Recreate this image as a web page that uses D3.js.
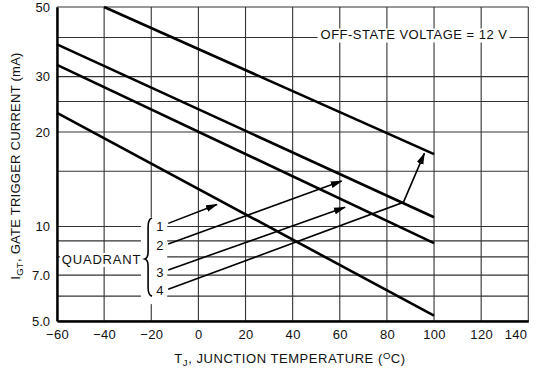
<!DOCTYPE html>
<html>
<head>
<meta charset="utf-8">
<script src="https://cdn.jsdelivr.net/npm/d3@7"></script>
<style>
  html, body { margin: 0; padding: 0; background: #fff; }
  svg { display: block; }
  text { font-family: "Liberation Sans", Arial, sans-serif; fill: #111; }
</style>
</head>
<body>
<svg id="chart" width="538" height="371"></svg>
<script>
// ---- data ----
const xTicks = [-60, -40, -20, 0, 20, 40, 60, 80, 100, 120, 140];
const yGrid = [5, 6, 7, 8, 9, 10, 15, 20, 25, 30, 40, 50];
const yTickLabels = [5, 7, 10, 20, 30, 50];
const quadrants = ["1", "2", "3", "4"];
// each curve: gate trigger current (mA) at start/end temperature
const curveQ1 = [23.0, 5.2];   // quadrant 1
const curveQ2 = [38.0, 10.7];  // quadrant 2
const curveQ3 = [32.7, 8.85];  // quadrant 3
const curveQ4 = [50.0, 17.0];  // quadrant 4
const curveValues = [curveQ1, curveQ2, curveQ3, curveQ4];
const curveTempsByQuadrant = [[-60, 100], [-60, 100], [-60, 100], [-40, 100]];

// annotation anchor points in data units [temp, mA]
const labelPts = [[-16.3, 9.64], [-16.3, 8.41], [-16.3, 6.92], [-16.3, 6.05]];
const leaderPaths = [
  [[-12.8, 10.23], [7.9, 11.75]],
  [[-12.8, 8.79], [60.8, 13.96]],
  [[-12.8, 7.27], [62.2, 11.51]],
  [[-12.8, 6.31], [87.0, 11.94], [95.9, 17.1]]
];
const bracePts = { t: -20.5, tip: -22.7, top: 10.64, mid: 7.88, bot: 6.0 };
const quadrantTitle = { text: "QUADRANT", t: -41.1, v: 7.6 };
const voltageNote = { text: "OFF-STATE VOLTAGE = 12 V", t: 91.5, v: 39.4 };

// ---- layout ----
const svg = d3.select("#chart");
const x = d3.scaleLinear().domain([-60, 140]).range([57, 528.3]);
const y = d3.scaleLog().domain([5, 50]).range([321, 7]);
const FONT = '"Liberation Sans", Arial, sans-serif';

// grid
const grid = svg.append("g").attr("stroke", "#333").attr("stroke-width", 1.1);
grid.selectAll("line.v").data(xTicks).join("line")
  .attr("x1", d => x(d)).attr("x2", d => x(d))
  .attr("y1", y(50)).attr("y2", y(5));
grid.selectAll("line.h").data(yGrid).join("line")
  .attr("x1", x(-60)).attr("x2", x(140))
  .attr("y1", d => y(d)).attr("y2", d => y(d));

// white knockouts behind annotations
const knock = svg.append("g");

// axes
const xAxis = d3.axisBottom(x).tickValues(xTicks).tickSize(0).tickPadding(9);
const gx = svg.append("g").attr("transform", `translate(0,${y(5)})`).call(xAxis);
gx.select(".domain").attr("stroke", "#000").attr("stroke-width", 2.4);
gx.selectAll("text").attr("font-size", 13).attr("fill", "#111")
  .style("font-family", FONT).style("letter-spacing", "0.3px");
gx.selectAll(".tick").filter(d => d === 140).select("text")
  .attr("text-anchor", "end").attr("dx", 0);
gx.selectAll(".tick").filter(d => d === 140).select("text").attr("x", -1.5);

const yAxis = d3.axisLeft(y).tickValues(yTickLabels).tickSize(0).tickPadding(7)
  .tickFormat(d => d < 10 ? d3.format(".1f")(d) : String(d));
const gy = svg.append("g").attr("transform", `translate(${x(-60)},0)`).call(yAxis);
gy.select(".domain").attr("stroke", "#000").attr("stroke-width", 2.4);
gy.selectAll("text").attr("font-size", 13).attr("fill", "#111")
  .style("font-family", FONT);

// axis titles
const xt = svg.append("text").attr("x", 290).attr("y", 362.5)
  .attr("text-anchor", "middle").attr("font-size", 13).style("letter-spacing", "0.55px");
xt.append("tspan").text("T");
xt.append("tspan").attr("font-size", 9.5).attr("dy", 3).text("J");
xt.append("tspan").attr("dy", -3).text(", JUNCTION TEMPERATURE (");
xt.append("tspan").attr("font-size", 9.5).attr("dy", -4).text("O");
xt.append("tspan").attr("dy", 4).text("C)");

const yt = svg.append("text")
  .attr("transform", `translate(20,166) rotate(-90)`)
  .attr("text-anchor", "middle").attr("font-size", 13).style("letter-spacing", "0.25px");
yt.append("tspan").text("I");
yt.append("tspan").attr("font-size", 9.5).attr("dy", 3).text("GT");
yt.append("tspan").attr("dy", -3).text(", GATE TRIGGER CURRENT (mA)");

// curves
const line = d3.line().x(d => x(d[0])).y(d => y(d[1]));
svg.append("g").selectAll("path").data(curveValues).join("path")
  .attr("d", (vals, i) => line(curveTempsByQuadrant[i].map((t, j) => [t, vals[j]])))
  .attr("fill", "none").attr("stroke", "#000").attr("stroke-width", 2.6);

// off-state voltage note
const vn = svg.append("text").attr("x", x(voltageNote.t)).attr("y", y(voltageNote.v))
  .attr("text-anchor", "middle").attr("font-size", 13).style("letter-spacing", "0.5px")
  .text(voltageNote.text);
const vb = vn.node().getBBox();
knock.append("rect").attr("x", vb.x - 3).attr("y", vb.y + 1).attr("width", vb.width + 5)
  .attr("height", vb.height - 1).attr("fill", "#fff");

// QUADRANT label
const qt = svg.append("text").attr("x", x(quadrantTitle.t)).attr("y", y(quadrantTitle.v))
  .attr("text-anchor", "middle").attr("font-size", 13).style("letter-spacing", "0.8px")
  .text(quadrantTitle.text);
const qb = qt.node().getBBox();
knock.append("rect").attr("x", qb.x - 2).attr("y", qb.y + 1).attr("width", qb.width + 3)
  .attr("height", qb.height - 1).attr("fill", "#fff");

// brace region knockout
const bx = x(bracePts.t);
knock.append("rect").attr("x", x(bracePts.tip) - 4).attr("y", y(bracePts.top) - 1)
  .attr("width", x(leaderPaths[0][0][0]) - x(bracePts.tip) + 3)
  .attr("height", y(bracePts.bot) - y(bracePts.top) + 9).attr("fill", "#fff");

// brace
const yTop = y(bracePts.top), yMid = y(bracePts.mid), yBot = y(bracePts.bot), tx = x(bracePts.tip);
svg.append("path")
  .attr("d", `M${bx + 2},${yTop} Q${bx - 2},${yTop + 1} ${bx - 2},${yTop + 9}
    L${bx - 2},${yMid - 7} Q${bx - 2},${yMid - 1} ${tx},${yMid}
    Q${bx - 2},${yMid + 1} ${bx - 2},${yMid + 7}
    L${bx - 2},${yBot - 9} Q${bx - 2},${yBot - 1} ${bx + 2},${yBot}`)
  .attr("fill", "none").attr("stroke", "#000").attr("stroke-width", 1.6);

// quadrant numbers
svg.append("g").selectAll("text").data(quadrants).join("text")
  .attr("x", (d, i) => x(labelPts[i][0])).attr("y", (d, i) => y(labelPts[i][1]))
  .attr("text-anchor", "middle").attr("font-size", 13).text(d => d);

// arrow marker
svg.append("defs").append("marker")
  .attr("id", "arrow").attr("markerUnits", "userSpaceOnUse")
  .attr("viewBox", "0 0 12 8").attr("refX", 11).attr("refY", 4)
  .attr("markerWidth", 12).attr("markerHeight", 8).attr("orient", "auto")
  .append("path").attr("d", "M0,0.5 L12,4 L0,7.5 Z").attr("fill", "#000");

// leader lines
svg.append("g").selectAll("path").data(leaderPaths).join("path")
  .attr("d", d => line(d))
  .attr("fill", "none").attr("stroke", "#000").attr("stroke-width", 1.6)
  .attr("marker-end", "url(#arrow)");
</script>
</body>
</html>
